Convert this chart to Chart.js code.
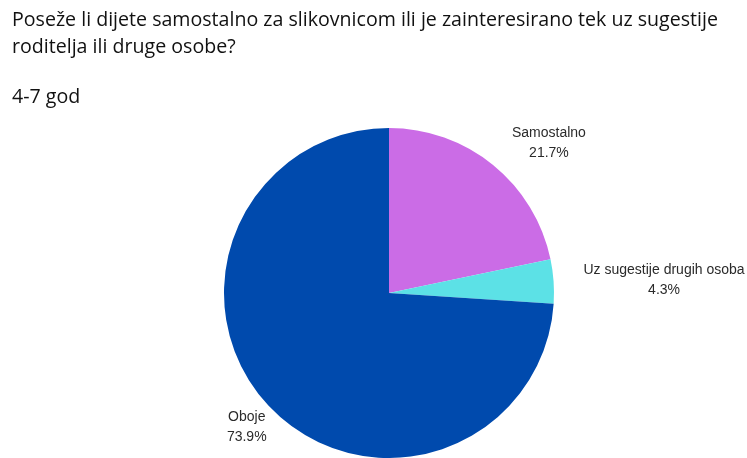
<!DOCTYPE html>
<html lang="hr">
<head>
<meta charset="UTF-8">
<title>Poseže li dijete samostalno</title>
<style>
  html, body { margin: 0; padding: 0; background: #fff; }
  #wrap { position: relative; width: 747px; height: 458px; }
</style>
</head>
<body>
<div id="wrap"><canvas id="myChart" width="747" height="458"></canvas></div>
<script src="https://cdn.jsdelivr.net/npm/chart.js"></script>
<script>
var titleLines = ['Poseže li dijete samostalno za slikovnicom ili je zainteresirano tek uz sugestije', 'roditelja ili druge osobe?'];
var subTitle = '4-7 god';
var categories = ['Samostalno', 'Uz sugestije drugih osoba', 'Oboje'];
var values = [21.7, 4.3, 73.9];
var colors = ['#cb6ce6', '#5ce1e6', '#004aad'];
var labelAlign = ['left', 'left', 'center'];

// titles drawn on top of canvas
var headerPlugin = {
  id: 'header',
  afterDraw: function (chart) {
    var ctx = chart.ctx;
    ctx.save();
    ctx.fillStyle = '#111';
    ctx.font = '19.6px "Open Sans", sans-serif';
    ctx.textBaseline = 'middle';
    ctx.textAlign = 'left';
    ctx.fillText(titleLines[0], 12, 20);
    ctx.fillText(titleLines[1], 12, 47);
    ctx.fillText(subTitle, 12, 97);
    ctx.restore();
  }
};

// slice labels outside the pie
var outLabels = {
  id: 'outLabels',
  afterDatasetsDraw: function (chart) {
    var ctx = chart.ctx;
    var meta = chart.getDatasetMeta(0);
    ctx.save();
    ctx.font = '14px "Liberation Sans", Arial, sans-serif';
    ctx.fillStyle = '#2b2b2b';
    ctx.textBaseline = 'middle';
    meta.data.forEach(function (arc, i) {
      var p = arc.getProps(['x', 'y', 'startAngle', 'endAngle', 'outerRadius'], true);
      var mid = (p.startAngle + p.endAngle) / 2;
      var d = p.outerRadius + 30;
      var ax = p.x + Math.cos(mid) * d;
      var ay = p.y + Math.sin(mid) * d;
      var l1 = categories[i];
      var l2 = values[i].toFixed(1) + '%';
      var w = Math.max(ctx.measureText(l1).width, ctx.measureText(l2).width);
      var cx = labelAlign[i] === 'left' ? ax + w / 2 : (labelAlign[i] === 'right' ? ax - w / 2 : ax);
      ctx.textAlign = 'center';
      ctx.fillText(l1, cx, ay - 9);
      ctx.fillText(l2, cx, ay + 11);
    });
    ctx.restore();
  }
};

var ctx = document.getElementById('myChart').getContext('2d');
new Chart(ctx, {
  type: 'pie',
  data: {
    labels: categories,
    datasets: [{
      data: values,
      backgroundColor: colors,
      borderWidth: 0
    }]
  },
  options: {
    responsive: false,
    animation: false,
    layout: { padding: { top: 128, left: 31, right: 0, bottom: 0 } },
    plugins: {
      legend: { display: false },
      tooltip: { enabled: false }
    }
  },
  plugins: [headerPlugin, outLabels]
});
</script>
</body>
</html>
